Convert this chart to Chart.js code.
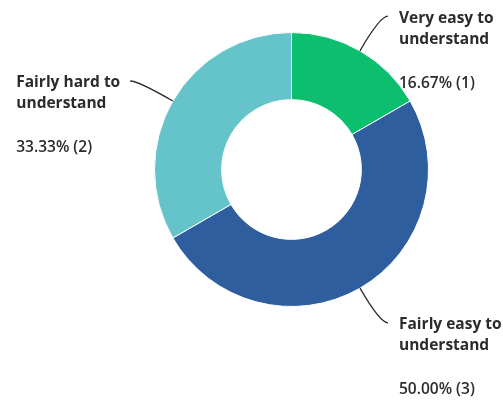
<!DOCTYPE html>
<html>
<head>
<meta charset="utf-8">
<script src="https://cdn.jsdelivr.net/npm/chart.js@4/dist/chart.umd.min.js"></script>
<style>
  html, body { margin: 0; padding: 0; background: #fff; }
  #wrap { width: 503px; height: 400px; position: relative; }
</style>
</head>
<body>
<div id="wrap"><canvas id="chart"></canvas></div>
<script>
// answer categories, clockwise from the top
const labels = [
  ['Very easy to', 'understand'],
  ['Fairly easy to', 'understand'],
  ['Fairly hard to', 'understand'],
];
const counts = [1, 3, 2];
const colors = ['#0cbf6e', '#2f5e9f', '#64c4c9'];

const total = counts.reduce((a, b) => a + b, 0);

// leader lines + text next to each slice
const calloutPlugin = {
  id: 'callouts',
  afterDraw(chart) {
    const ctx = chart.ctx;
    const arcs = chart.getDatasetMeta(0).data;
    ctx.save();
    arcs.forEach((arc, i) => {
      const { x, y, startAngle, endAngle, outerRadius } = arc.getProps(
        ['x', 'y', 'startAngle', 'endAngle', 'outerRadius'], true);
      const mid = (startAngle + endAngle) / 2;
      const cos = Math.cos(mid), sin = Math.sin(mid);
      const dir = cos >= 0 ? 1 : -1;
      const p0 = { x: x + cos * outerRadius, y: y + sin * outerRadius };
      const elbow = { x: x + cos * (outerRadius + 40), y: y + sin * (outerRadius + 40) };
      const end = { x: elbow.x + dir * 8, y: elbow.y };

      ctx.beginPath();
      ctx.moveTo(p0.x, p0.y);
      ctx.quadraticCurveTo(elbow.x, elbow.y, end.x, end.y);
      ctx.strokeStyle = '#2b2b2b';
      ctx.lineWidth = 1.3;
      ctx.stroke();

      const lines = labels[i];
      const pct = (counts[i] / total * 100).toFixed(2) + '% (' + counts[i] + ')';
      ctx.fillStyle = '#2b2b2b';
      ctx.textBaseline = 'middle';
      ctx.textAlign = 'left';
      ctx.font = 'bold 15.5px "Open Sans"';
      let tx = end.x + 11;
      if (dir < 0) tx = end.x - 10 - ctx.measureText(lines[0]).width;
      const ty = end.y + 2;
      lines.forEach((t, k) => ctx.fillText(t, tx, ty + k * 21));
      ctx.font = '600 15.5px "Open Sans"';
      ctx.fillText(pct, tx, ty + 65);
    });
    ctx.restore();
  }
};

new Chart(document.getElementById('chart'), {
  type: 'doughnut',
  data: {
    labels: labels,
    datasets: [{
      data: counts,
      backgroundColor: colors,
      borderColor: '#fff',
      borderWidth: 1,
    }],
  },
  options: {
    responsive: true,
    maintainAspectRatio: false,
    animation: false,
    cutout: '51%',
    layout: {
      padding: { top: 32, bottom: 93, left: 154, right: 74 },
    },
    plugins: {
      legend: { display: false },
      tooltip: { enabled: false },
    },
  },
  plugins: [calloutPlugin],
});
</script>
</body>
</html>
